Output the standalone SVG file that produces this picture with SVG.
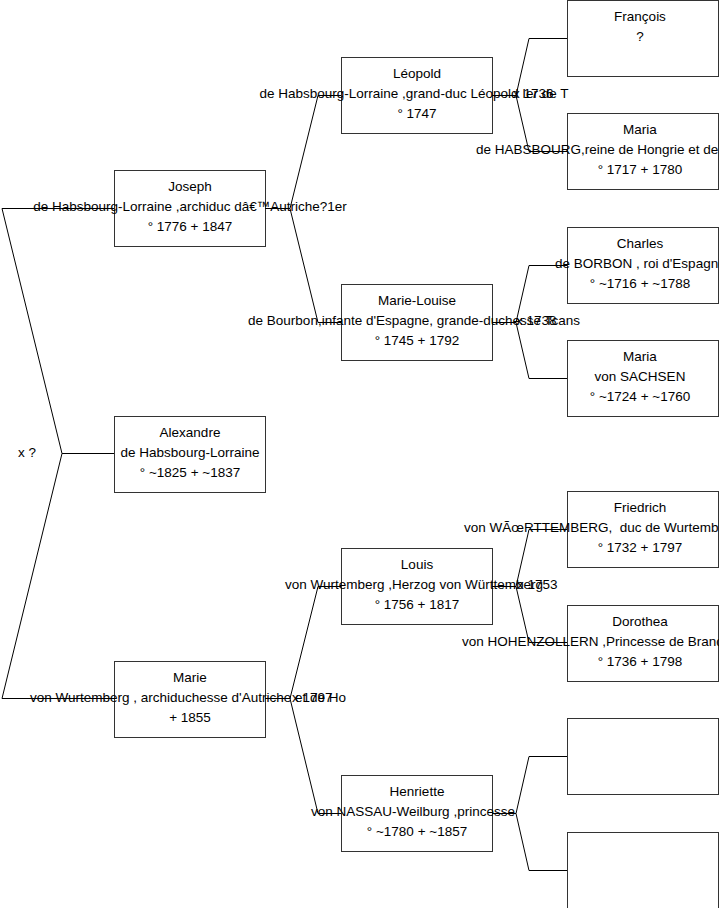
<svg xmlns="http://www.w3.org/2000/svg" width="719" height="908" viewBox="0 0 719 908">
<style>
.b{fill:#fff;stroke:#333;stroke-width:1}
.c{fill:none;stroke:#000;stroke-width:1}
text{font-family:"Liberation Sans",Arial,sans-serif;font-size:13.5px;fill:#000}
.m{text-anchor:middle}
</style>
<rect width="719" height="908" fill="#fff"/>
<g id="nodes">
<g id="joseph"><rect class="b" x="114.5" y="170.5" width="151" height="76"/>
<text class="m" x="190" y="191">Joseph</text>
<text class="m" x="190" y="211">de Habsbourg-Lorraine ,archiduc dâ€™Autriche?1er</text>
<text class="m" x="190" y="231">° 1776 + 1847</text></g>
<g id="alexandre"><rect class="b" x="114.5" y="416.5" width="151" height="76"/>
<text class="m" x="190" y="437">Alexandre</text>
<text class="m" x="190" y="457">de Habsbourg-Lorraine</text>
<text class="m" x="190" y="477">° ~1825 + ~1837</text></g>
<g id="marie"><rect class="b" x="114.5" y="661.5" width="151" height="76"/>
<text class="m" x="190" y="682">Marie</text>
<text class="m" x="188" y="702">von Wurtemberg , archiduchesse d'Autriche et de Ho</text>
<text class="m" x="190" y="722">+ 1855</text></g>
<g id="leopold"><rect class="b" x="341.5" y="57.5" width="151" height="76"/>
<text class="m" x="417" y="78">Léopold</text>
<text class="m" x="414" y="98">de Habsbourg-Lorraine ,grand-duc Léopold Ier de T</text>
<text class="m" x="417" y="118">° 1747</text></g>
<g id="marie-louise"><rect class="b" x="341.5" y="284.5" width="151" height="76"/>
<text class="m" x="417" y="305">Marie-Louise</text>
<text class="m" x="414" y="325">de Bourbon,infante d'Espagne, grande-duchesse Tcans</text>
<text class="m" x="417" y="345">° 1745 + 1792</text></g>
<g id="louis"><rect class="b" x="341.5" y="548.5" width="151" height="76"/>
<text class="m" x="417" y="569">Louis</text>
<text class="m" x="414" y="589">von Wurtemberg ,Herzog von Württemberg</text>
<text class="m" x="417" y="609">° 1756 + 1817</text></g>
<g id="henriette"><rect class="b" x="341.5" y="775.5" width="151" height="76"/>
<text class="m" x="417" y="796">Henriette</text>
<text class="m" x="413" y="816">von NASSAU-Weilburg ,princesse</text>
<text class="m" x="417" y="836">° ~1780 + ~1857</text></g>
<g id="francois"><rect class="b" x="567.5" y="0.5" width="151" height="76"/>
<text class="m" x="640" y="21">François</text>
<text class="m" x="640" y="41">?</text></g>
<g id="maria-habsbourg"><rect class="b" x="567.5" y="113.5" width="151" height="76"/>
<text class="m" x="640" y="134">Maria</text>
<text x="476" y="154">de HABSBOURG,reine de Hongrie et de</text>
<text class="m" x="640" y="174">° 1717 + 1780</text></g>
<g id="charles"><rect class="b" x="567.5" y="227.5" width="151" height="76"/>
<text class="m" x="640" y="248">Charles</text>
<text x="555" y="268">de BORBON , roi d'Espagne</text>
<text class="m" x="640" y="288">° ~1716 + ~1788</text></g>
<g id="maria-sachsen"><rect class="b" x="567.5" y="340.5" width="151" height="76"/>
<text class="m" x="640" y="361">Maria</text>
<text class="m" x="640" y="381">von SACHSEN</text>
<text class="m" x="640" y="401">° ~1724 + ~1760</text></g>
<g id="friedrich"><rect class="b" x="567.5" y="491.5" width="151" height="76"/>
<text class="m" x="640" y="512">Friedrich</text>
<text x="464" y="532">von WÃœRTTEMBERG,&#160; duc de Wurtemberg</text>
<text class="m" x="640" y="552">° 1732 + 1797</text></g>
<g id="dorothea"><rect class="b" x="567.5" y="605.5" width="151" height="76"/>
<text class="m" x="640" y="626">Dorothea</text>
<text x="462" y="646">von HOHENZOLLERN ,Princesse de Brandebourg</text>
<text class="m" x="640" y="666">° 1736 + 1798</text></g>
<g id="empty1"><rect class="b" x="567.5" y="718.5" width="151" height="76"/></g>
<g id="empty2"><rect class="b" x="567.5" y="832.5" width="151" height="76"/></g>
</g>
<g id="connectors">
<polyline class="c" points="114,208.5 2,208.5 62,453.5 2,698.5 114,698.5"/>
<line class="c" x1="62" y1="453.5" x2="114" y2="453.5"/>
<polyline class="c" points="265,208.5 290,208.5 318,95.5 341,95.5"/>
<polyline class="c" points="290,208.5 318,322.5 341,322.5"/>
<polyline class="c" points="265,698.5 290,698.5 318,586.5 341,586.5"/>
<polyline class="c" points="290,698.5 318,813.5 341,813.5"/>
<polyline class="c" points="492,95.5 516,95.5 529,38.5 567,38.5"/>
<polyline class="c" points="516,95.5 529,151.5 567,151.5"/>
<polyline class="c" points="492,322.5 516,322.5 529,265.5 567,265.5"/>
<polyline class="c" points="516,322.5 529,378.5 567,378.5"/>
<polyline class="c" points="492,586.5 516,586.5 529,529.5 567,529.5"/>
<polyline class="c" points="516,586.5 529,642.5 567,642.5"/>
<polyline class="c" points="492,813.5 516,813.5 529,756.5 567,756.5"/>
<polyline class="c" points="516,813.5 529,870.5 567,870.5"/>
</g>
<g id="labels">
<text x="18" y="457">x ?</text>
<text x="513" y="98">x 1736</text>
<text x="516" y="325">x 1738</text>
<text x="517" y="589">x 1753</text>
<text x="292" y="702">x 1797</text>
</g>
</svg>
